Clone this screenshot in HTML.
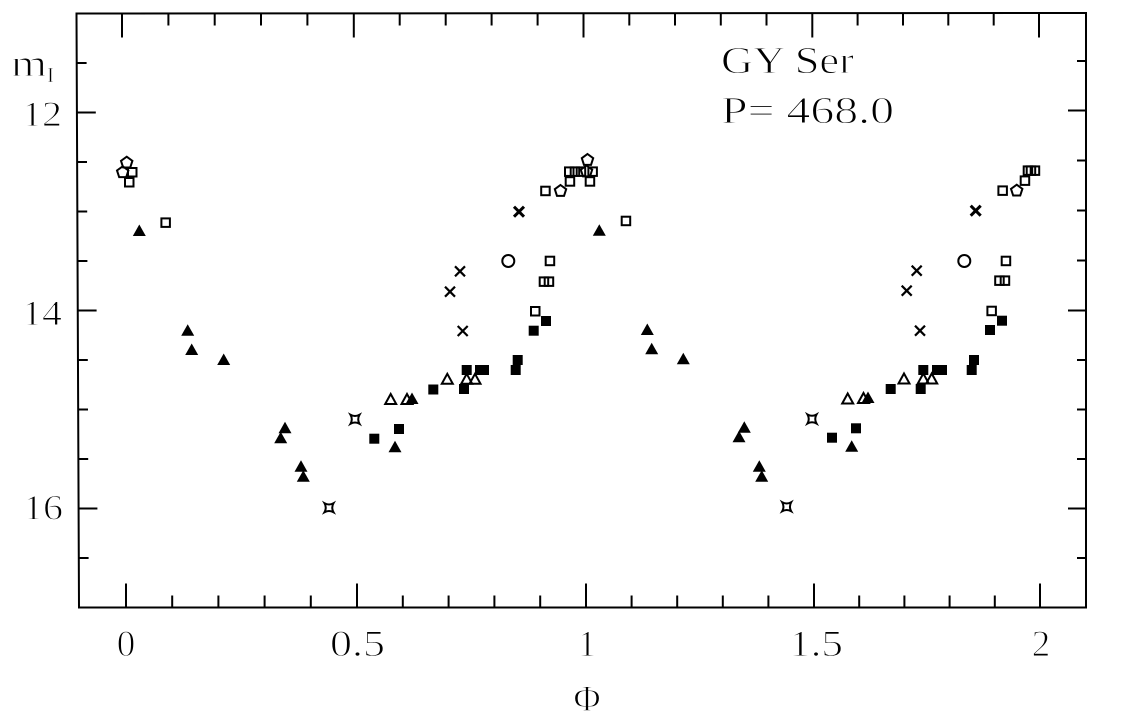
<!DOCTYPE html>
<html>
<head>
<meta charset="utf-8">
<style>
html,body{margin:0;padding:0;background:#fff;}
svg{display:block;}
text{font-family:"Liberation Serif","DejaVu Serif",serif;fill:#000;stroke:#fff;stroke-width:1;}
</style>
</head>
<body>
<svg width="1146" height="716" viewBox="0 0 1146 716" xmlns="http://www.w3.org/2000/svg">
<rect width="1146" height="716" fill="#fff"/>
<!-- frame -->
<polygon points="76.5,13.5 1086,13 1086,607.5 79,607.5" fill="none" stroke="#000" stroke-width="2"/>
<g stroke="#000" stroke-width="2" fill="none">
<!-- bottom ticks -->
<path d="M126,607.5V583.5 M172.2,607.5V595.5 M218.4,607.5V595.5 M264.6,607.5V595.5 M310.8,607.5V595.5 M357,607.5V583.5 M402.8,607.5V595.5 M448.6,607.5V595.5 M494.4,607.5V595.5 M540.2,607.5V595.5 M586,607.5V583.5 M631.6,607.5V595.5 M677.2,607.5V595.5 M722.8,607.5V595.5 M768.4,607.5V595.5 M814,607.5V583.5 M859.2,607.5V595.5 M904.4,607.5V595.5 M949.6,607.5V595.5 M994.8,607.5V595.5 M1040,607.5V583.5"/>
<!-- top ticks -->
<path d="M122,13.5V37.5 M168.4,13.5V25.5 M214.7,13.5V25.5 M261,13.5V25.5 M307.4,13.5V25.5 M353.8,13.5V37.5 M399.7,13.5V25.5 M445.7,13.5V25.5 M491.6,13.5V25.5 M537.6,13.5V25.5 M583.5,13.5V37.5 M629.3,13.5V25.5 M675,13.5V25.5 M720.8,13.5V25.5 M766.5,13.5V25.5 M812.3,13.5V37.5 M857.6,13.5V25.5 M903,13.5V25.5 M948.3,13.5V25.5 M993.7,13.5V25.5 M1039,13.5V37.5"/>
<!-- left ticks -->
<path d="M76.6,63H86.6 M76.8,112.5H95.8 M77,162H87 M77.2,211.5H87.2 M77.4,261H87.4 M77.6,310.5H96.6 M77.8,360H87.8 M78,409.5H88 M78.2,459H88.2 M78.4,508.5H97.4 M78.6,558H88.6"/>
<!-- right ticks -->
<path d="M1086,61H1077 M1086,110.5H1068 M1086,160.5H1077 M1086,210.5H1077 M1086,260.5H1077 M1086,310.5H1068 M1086,360H1077 M1086,409.5H1077 M1086,459H1077 M1086,508.5H1068 M1086,558H1077"/>
</g>

<!-- labels -->
<text x="11" y="76" font-size="38" textLength="36" lengthAdjust="spacingAndGlyphs">m</text>
<text x="47" y="82" font-size="21" style="stroke-width:0.5">I</text>
<text x="22" y="126" font-size="36" textLength="40" lengthAdjust="spacingAndGlyphs">12</text>
<text x="22" y="325" font-size="36" textLength="40" lengthAdjust="spacingAndGlyphs">14</text>
<text x="23" y="519.5" font-size="36" textLength="40" lengthAdjust="spacingAndGlyphs">16</text>

<text x="126" y="656" font-size="37" text-anchor="middle">0</text>
<text x="357.5" y="656" font-size="37" text-anchor="middle" textLength="55" lengthAdjust="spacingAndGlyphs">0.5</text>
<text x="587" y="656" font-size="37" text-anchor="middle">1</text>
<text x="816" y="656" font-size="37" text-anchor="middle" textLength="54" lengthAdjust="spacingAndGlyphs">1.5</text>
<text x="1041" y="656" font-size="37" text-anchor="middle">2</text>
<text x="587" y="711" font-size="37" text-anchor="middle">Φ</text>

<text x="721" y="73" font-size="38" textLength="133" lengthAdjust="spacingAndGlyphs">GY Ser</text>
<text x="721" y="123" font-size="38" textLength="173" lengthAdjust="spacingAndGlyphs">P= 468.0</text>

<!-- filled triangles -->
<g fill="#000">
<polygon points="139.3,224.5 145.8,236 132.8,236"/>
<polygon points="187.7,324.2 194.2,335.7 181.2,335.7"/>
<polygon points="191.7,343.5 198.2,355 185.2,355"/>
<polygon points="223.7,353.5 230.2,365 217.2,365"/>
<polygon points="285,421.8 291.5,433.3 278.5,433.3"/>
<polygon points="280.7,431.8 287.2,443.3 274.2,443.3"/>
<polygon points="301,460.2 307.5,471.7 294.5,471.7"/>
<polygon points="303.3,470.2 309.8,481.7 296.8,481.7"/>
<polygon points="395,440.8 401.5,452.3 388.5,452.3"/>
<polygon points="412,392.5 418.5,404 405.5,404"/>
<polygon points="599.3,224.2 605.8,235.7 592.8,235.7"/>
<polygon points="647.3,323.5 653.8,335 640.8,335"/>
<polygon points="651.7,342.8 658.2,354.3 645.2,354.3"/>
<polygon points="683.3,352.8 689.8,364.3 676.8,364.3"/>
<polygon points="744.3,421.2 750.8,432.7 737.8,432.7"/>
<polygon points="739,430.8 745.5,442.3 732.5,442.3"/>
<polygon points="759.3,460.2 765.8,471.7 752.8,471.7"/>
<polygon points="761.7,470.2 768.2,481.7 755.2,481.7"/>
<polygon points="851.7,440.2 858.2,451.7 845.2,451.7"/>
<polygon points="868,391.5 874.5,403 861.5,403"/>
</g>

<!-- filled squares -->
<g fill="#000">
<rect x="541" y="316" width="10" height="10"/>
<rect x="528.7" y="325.7" width="10" height="10"/>
<rect x="512.7" y="355" width="10" height="10"/>
<rect x="510.7" y="365" width="10" height="10"/>
<rect x="461.7" y="365" width="10" height="10"/>
<rect x="475" y="365" width="10" height="10"/>
<rect x="479" y="365" width="10" height="10"/>
<rect x="459" y="384" width="10" height="10"/>
<rect x="428.3" y="384.5" width="10" height="10"/>
<rect x="369.3" y="433.7" width="10" height="10"/>
<rect x="394" y="424" width="10" height="10"/>
<rect x="997" y="315.7" width="10" height="10"/>
<rect x="985" y="325" width="10" height="10"/>
<rect x="969" y="355" width="10" height="10"/>
<rect x="966.7" y="365" width="10" height="10"/>
<rect x="918.3" y="365" width="10" height="10"/>
<rect x="932" y="365" width="10" height="10"/>
<rect x="937" y="365" width="10" height="10"/>
<rect x="915.7" y="384" width="10" height="10"/>
<rect x="885.7" y="384" width="10" height="10"/>
<rect x="827" y="432.7" width="10" height="10"/>
<rect x="851" y="423.3" width="10" height="10"/>
</g>

<g fill="none" stroke="#000" stroke-width="2">
<!-- open squares -->
<rect x="128" y="168" width="8.5" height="8.5"/>
<rect x="125" y="178" width="8.5" height="8.5"/>
<rect x="161.4" y="218.4" width="8.5" height="8.5"/>
<rect x="621.7" y="216.7" width="8.5" height="8.5"/>
<rect x="565" y="167.4" width="8.5" height="8.5"/>
<rect x="570.7" y="167.4" width="8.5" height="8.5"/>
<rect x="576.7" y="167.4" width="8.5" height="8.5"/>
<rect x="588.4" y="167.4" width="8.5" height="8.5"/>
<rect x="565.7" y="177.2" width="8.5" height="8.5"/>
<rect x="585.7" y="177.2" width="8.5" height="8.5"/>
<rect x="541.2" y="186.7" width="8.5" height="8.5"/>
<rect x="545.7" y="256.7" width="8.5" height="8.5"/>
<rect x="539.7" y="277.4" width="8.5" height="8.5"/>
<rect x="544.7" y="277.4" width="8.5" height="8.5"/>
<rect x="531" y="307" width="8.5" height="8.5"/>
<rect x="1023.7" y="166.4" width="8.5" height="8.5"/>
<rect x="1026.7" y="166.4" width="8.5" height="8.5"/>
<rect x="1030.7" y="166.4" width="8.5" height="8.5"/>
<rect x="1020.7" y="176.4" width="8.5" height="8.5"/>
<rect x="998.4" y="186.4" width="8.5" height="8.5"/>
<rect x="1001.7" y="256.7" width="8.5" height="8.5"/>
<rect x="995.2" y="276.4" width="8.5" height="8.5"/>
<rect x="1000.7" y="276.4" width="8.5" height="8.5"/>
<rect x="987.4" y="306.7" width="8.5" height="8.5"/>

<!-- open triangles -->
<polygon points="390.7,394 396.2,404 385.2,404"/>
<polygon points="407,394 412.5,404 401.5,404"/>
<polygon points="447.3,373.8 452.8,383.8 441.8,383.8"/>
<polygon points="466.7,373.8 472.2,383.8 461.2,383.8"/>
<polygon points="475,373.8 480.5,383.8 469.5,383.8"/>
<polygon points="847.7,393.5 853.2,403.5 842.2,403.5"/>
<polygon points="863.5,393 869,403 858,403"/>
<polygon points="904,373.5 909.5,383.5 898.5,383.5"/>
<polygon points="923.3,373.5 928.8,383.5 917.8,383.5"/>
<polygon points="931.7,373.5 937.2,383.5 926.2,383.5"/>

<!-- pentagons -->
<polygon transform="translate(126.7,162.7)" points="0,-6 5.7,-1.85 3.53,4.85 -3.53,4.85 -5.7,-1.85"/>
<polygon transform="translate(122.7,172.3)" points="0,-6 5.7,-1.85 3.53,4.85 -3.53,4.85 -5.7,-1.85"/>
<polygon transform="translate(587.5,160)" points="0,-6 5.7,-1.85 3.53,4.85 -3.53,4.85 -5.7,-1.85"/>
<polygon transform="translate(586.5,171.5)" points="0,-6 5.7,-1.85 3.53,4.85 -3.53,4.85 -5.7,-1.85"/>
<polygon transform="translate(560.5,191)" points="0,-6 5.7,-1.85 3.53,4.85 -3.53,4.85 -5.7,-1.85"/>
<polygon transform="translate(1016.7,190.7)" points="0,-6 5.7,-1.85 3.53,4.85 -3.53,4.85 -5.7,-1.85"/>

<!-- circles -->
<circle cx="508.3" cy="261" r="6"/>
<circle cx="964.3" cy="261" r="6"/>

<!-- star boxes -->
<path transform="translate(355,419.3)" d="M-4.5,-4.5 Q0,-2 4.5,-4.5 Q2,0 4.5,4.5 Q0,2 -4.5,4.5 Q-2,0 -4.5,-4.5 Z"/>
<path transform="translate(329,507.7)" d="M-4.5,-4.5 Q0,-2 4.5,-4.5 Q2,0 4.5,4.5 Q0,2 -4.5,4.5 Q-2,0 -4.5,-4.5 Z"/>
<path transform="translate(812,419)" d="M-4.5,-4.5 Q0,-2 4.5,-4.5 Q2,0 4.5,4.5 Q0,2 -4.5,4.5 Q-2,0 -4.5,-4.5 Z"/>
<path transform="translate(786.7,506.7)" d="M-4.5,-4.5 Q0,-2 4.5,-4.5 Q2,0 4.5,4.5 Q0,2 -4.5,4.5 Q-2,0 -4.5,-4.5 Z"/>
</g>

<!-- crosses -->
<g fill="none" stroke="#000" stroke-width="2.2">
<path transform="translate(519,211.7)" d="M-5,-5L5,5M5,-5L-5,5" stroke-width="3"/>
<path transform="translate(460,271.3)" d="M-5,-5L5,5M5,-5L-5,5"/>
<path transform="translate(450,291.7)" d="M-5,-5L5,5M5,-5L-5,5"/>
<path transform="translate(462.7,331)" d="M-5,-5L5,5M5,-5L-5,5"/>
<path transform="translate(975.7,210.7)" d="M-5,-5L5,5M5,-5L-5,5" stroke-width="3"/>
<path transform="translate(916.7,270.7)" d="M-5,-5L5,5M5,-5L-5,5"/>
<path transform="translate(906.7,290.7)" d="M-5,-5L5,5M5,-5L-5,5"/>
<path transform="translate(920,330.7)" d="M-5,-5L5,5M5,-5L-5,5"/>
</g>
</svg>
</body>
</html>
